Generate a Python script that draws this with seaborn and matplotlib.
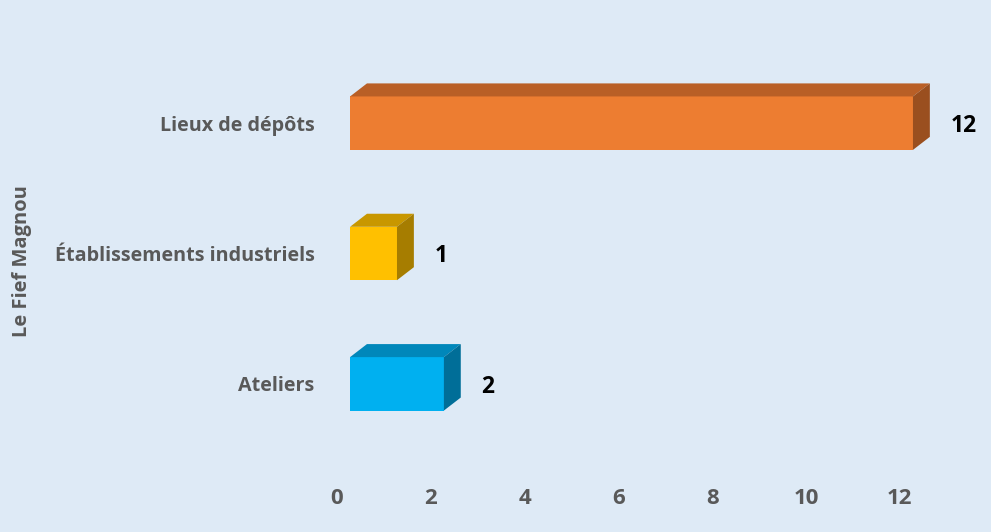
# 3D-look horizontal bar chart - Le Fief Magnou
import pandas as pd
import matplotlib.pyplot as plt
import seaborn as sns
from matplotlib.patches import Polygon

# data
categories = ['Lieux de dépôts', 'Établissements industriels', 'Ateliers']
values = [12, 1, 2]
front_colors = ['#ED7D31', '#FFC000', '#00B0F0']
top_colors = ['#B95F26', '#C89700', '#0087BA']
side_colors = ['#9A4F1F', '#A67D00', '#006E98']
xticks = [0, 2, 4, 6, 8, 10, 12]
axis_title = 'Le Fief Magnou'

df = pd.DataFrame({'categorie': categories, 'valeur': values})

bg = '#DEEAF6'
sns.set_style('white')
plt.rcParams['font.family'] = ['Open Sans', 'DejaVu Sans']

fig = plt.figure(figsize=(9.91, 5.32), dpi=100, facecolor=bg)
ax = fig.add_axes([0.340, 0.156, 0.639, 0.735])
ax.set_facecolor(bg)

sns.barplot(data=df, y='categorie', x='valeur', hue='categorie', palette=front_colors,
            orient='h', width=0.41, legend=False, ax=ax, saturation=1)

# fake 3d: shift the front face and add a top and a side face
shift = 0.28   # front face sits a bit right of the axis wall
dx = 0.36      # depth in x units
dy = 0.10      # depth in category units
for i, p in enumerate(ax.patches[:len(values)]):
    p.set_x(p.get_x() + shift)
    p.set_linewidth(0)
    x0 = p.get_x()
    x1 = x0 + p.get_width()
    yt = p.get_y()
    yb = yt + p.get_height()
    ax.add_patch(Polygon([(x0, yt), (x1, yt), (x1 + dx, yt - dy), (x0 + dx, yt - dy)],
                         closed=True, facecolor=top_colors[i], edgecolor='none'))
    ax.add_patch(Polygon([(x1, yt), (x1 + dx, yt - dy), (x1 + dx, yb - dy), (x1, yb)],
                         closed=True, facecolor=side_colors[i], edgecolor='none'))
    ax.annotate(str(values[i]), (x1 + dx, (yt + yb) / 2), xytext=(15, -2),
                textcoords='offset points', ha='left', va='center',
                fontsize=16.5, fontweight='bold', color='black')

ax.set_xlim(0, 13.5)
ax.set_ylim(2.5, -0.5)
ax.set_xticks(xticks)
ax.set_xticklabels([str(t) for t in xticks], fontsize=16, fontweight='bold', color='#595959')
ax.tick_params(axis='x', length=0, pad=28)
ax.tick_params(axis='y', length=0, pad=16, labelsize=14.2, labelcolor='#595959')
for lab in ax.get_yticklabels():
    lab.set_fontweight('bold')
ax.set_xlabel('')
ax.set_ylabel('')
sns.despine(ax=ax, left=True, bottom=True)

fig.text(0.022, 0.51, axis_title, rotation=90, ha='center', va='center',
         fontsize=14.5, fontweight='bold', color='#595959')

plt.savefig('out.png', dpi=100, facecolor=bg)
